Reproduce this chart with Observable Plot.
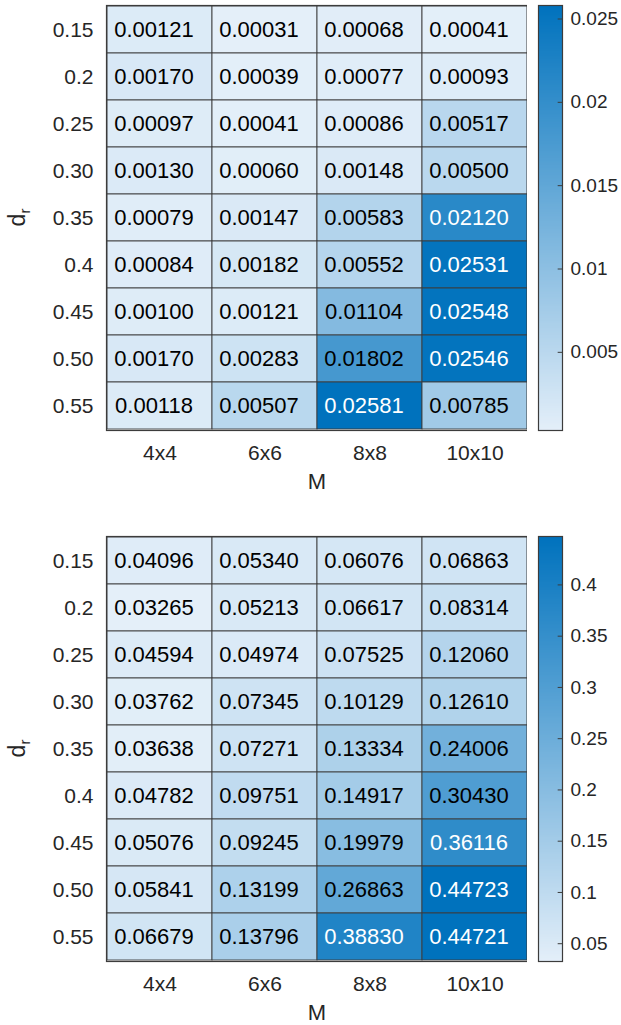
<!DOCTYPE html>
<html>
<head>
<meta charset="utf-8">
<script src="https://cdn.jsdelivr.net/npm/d3@7"></script>
<script src="https://cdn.jsdelivr.net/npm/@observablehq/plot@0.6"></script>
<style>
  body { margin: 0; background: #fff; }
  #root { width: 621px; font-family: "Liberation Sans", Arial, sans-serif; }
  .row { display: flex; flex-direction: row; }
</style>
</head>
<body>
<div id="root"></div>
<script>
const rows = ["0.15", "0.2", "0.25", "0.30", "0.35", "0.4", "0.45", "0.50", "0.55"];
const cols = ["4x4", "6x6", "8x8", "10x10"];

const topValues = [
  [0.00121, 0.00031, 0.00068, 0.00041],
  [0.00170, 0.00039, 0.00077, 0.00093],
  [0.00097, 0.00041, 0.00086, 0.00517],
  [0.00130, 0.00060, 0.00148, 0.00500],
  [0.00079, 0.00147, 0.00583, 0.02120],
  [0.00084, 0.00182, 0.00552, 0.02531],
  [0.00100, 0.00121, 0.01104, 0.02548],
  [0.00170, 0.00283, 0.01802, 0.02546],
  [0.00118, 0.00507, 0.02581, 0.00785]
];
const bottomValues = [
  [0.04096, 0.05340, 0.06076, 0.06863],
  [0.03265, 0.05213, 0.06617, 0.08314],
  [0.04594, 0.04974, 0.07525, 0.12060],
  [0.03762, 0.07345, 0.10129, 0.12610],
  [0.03638, 0.07271, 0.13334, 0.24006],
  [0.04782, 0.09751, 0.14917, 0.30430],
  [0.05076, 0.09245, 0.19979, 0.36116],
  [0.05841, 0.13199, 0.26863, 0.44723],
  [0.06679, 0.13796, 0.38830, 0.44721]
];
const topTicks = [0.005, 0.01, 0.015, 0.02, 0.025];
const bottomTicks = [0.05, 0.1, 0.15, 0.2, 0.25, 0.3, 0.35, 0.4];

const lightColor = "#e4eff9";
const darkColor = "#0072bd";
const gridColor = "#3c3c3c";
const axisText = "#262626";

function tidy(values) {
  const out = [];
  values.forEach((r, i) => r.forEach((v, j) => out.push({row: rows[i], col: cols[j], value: v})));
  return out;
}

function makeBlock(values, ticks, layout) {
  const data = tidy(values);
  const lo = d3.min(data, d => d.value);
  const hi = d3.max(data, d => d.value);
  const color = {type: "linear", domain: [lo, hi], range: [lightColor, darkColor], interpolate: "rgb"};
  const plotH = layout.height - layout.marginTop - layout.marginBottom;

  const heat = Plot.plot({
    width: 527,
    height: layout.height,
    marginLeft: 106,
    marginRight: 0,
    marginTop: layout.marginTop,
    marginBottom: layout.marginBottom,
    style: {fontFamily: "Liberation Sans, Arial, sans-serif", background: "#fff"},
    x: {domain: cols, padding: 0, label: null},
    y: {domain: rows, padding: 0, label: null},
    color,
    marks: [
      Plot.cell(data, {x: "col", y: "row", fill: "value", stroke: gridColor, strokeWidth: 0.9}),
      Plot.text(data, {
        x: "col", y: "row", text: d => d.value.toFixed(5),
        dx: -6, fontSize: 22,
        fill: d => (d.value - lo) / (hi - lo) > 0.75 ? "#ffffff" : "#000000"
      }),
      Plot.frame({stroke: gridColor, strokeWidth: 1.2}),
      Plot.axisX({tickSize: 0, tickPadding: 15, fontSize: 21, color: axisText, label: null}),
      Plot.axisY({tickSize: 0, tickPadding: 13, fontSize: 21, color: axisText, label: null}),
      Plot.text(["M"], {frameAnchor: "bottom", dy: 51, lineAnchor: "middle", fontSize: 22, fill: axisText})
    ]
  });

  // y axis label with real subscript
  const svg = d3.select(heat.tagName === "svg" ? heat : heat.querySelector("svg"));
  const cy = layout.marginTop + plotH / 2;
  const lbl = svg.append("text")
    .attr("transform", `translate(25,${cy}) rotate(-90)`)
    .attr("text-anchor", "middle")
    .attr("fill", axisText)
    .attr("font-size", 23)
    .attr("font-family", "Liberation Sans, Arial, sans-serif");
  lbl.append("tspan").text("d");
  lbl.append("tspan").attr("font-size", 15).attr("dy", "0.35em").text("r");

  const bar = Plot.plot({
    width: 94,
    height: layout.height,
    marginLeft: 11,
    marginRight: 59,
    marginTop: layout.marginTop,
    marginBottom: layout.marginBottom,
    style: {fontFamily: "Liberation Sans, Arial, sans-serif", background: "#fff"},
    x: {domain: [0, 1], axis: null},
    y: {domain: [lo, hi], axis: null},
    color,
    marks: [
      Plot.raster({fill: (x, y) => y, x1: 0, x2: 1, y1: lo, y2: hi, width: 1, height: 300, imageRendering: "auto"}),
      Plot.ruleY(ticks, {x1: 0.82, x2: 1, stroke: gridColor, strokeWidth: 1}),
      Plot.frame({stroke: gridColor, strokeWidth: 1.2}),
      Plot.axisY({anchor: "right", ticks, tickSize: 0, tickPadding: 8, fontSize: 19, color: axisText, tickFormat: d => String(d), label: null})
    ]
  });

  const row = document.createElement("div");
  row.className = "row";
  row.appendChild(heat);
  row.appendChild(bar);
  return row;
}

const root = document.getElementById("root");
root.appendChild(makeBlock(topValues, topTicks, {height: 512, marginTop: 5, marginBottom: 82}));
root.appendChild(makeBlock(bottomValues, bottomTicks, {height: 513, marginTop: 24, marginBottom: 64}));
</script>
</body>
</html>
